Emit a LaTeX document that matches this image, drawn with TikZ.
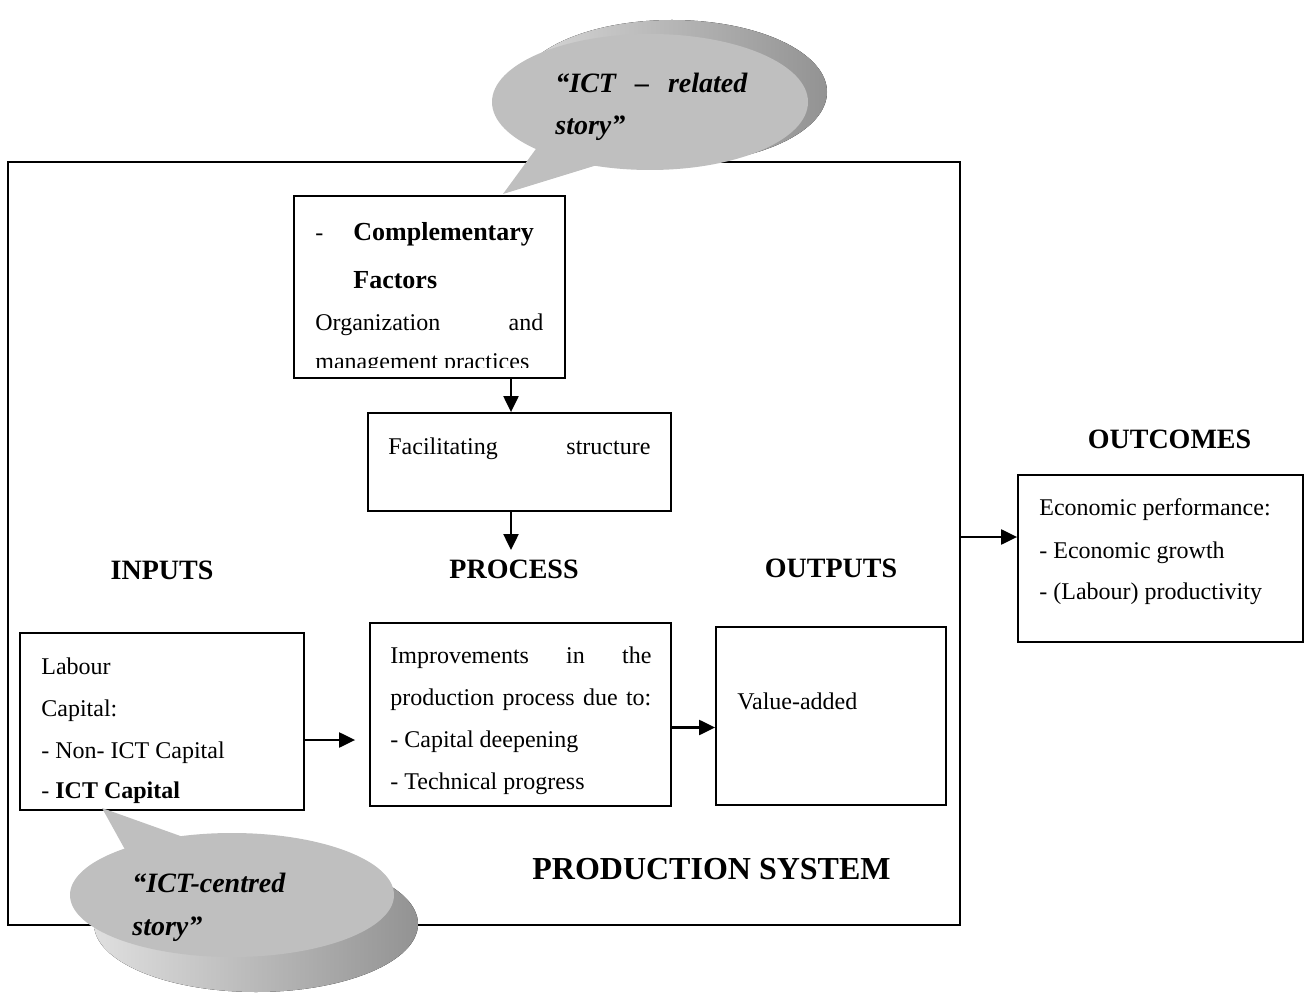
\documentclass[tikz,border=0pt]{standalone}
\usepackage{fontspec}
\setmainfont{Liberation Serif}
\usetikzlibrary{arrows.meta,positioning,shapes}

\tikzset{
  box/.style={draw, line width=0.9pt, inner sep=0pt},
  txt/.style={anchor=base west, inner sep=0pt, font=\fontsize{12}{14}\selectfont},
  subhead/.style={anchor=base west, inner sep=0pt, font=\fontsize{13}{15}\selectfont\bfseries},
  head/.style={anchor=base, inner sep=0pt, font=\fontsize{14}{16}\selectfont\bfseries},
  talk/.style={anchor=base west, inner sep=0pt, font=\fontsize{14}{16}\selectfont\bfseries\itshape},
  arr/.style={-{Triangle[length=8pt,width=7.5pt]}, line width=1.1pt},
  face/.style={fill=gray!50},
}

\begin{document}
\begin{tikzpicture}[x=0.5pt, y=-0.5pt]
\useasboundingbox (0,0) rectangle (1311,994);

% boxes
\node[box, minimum width=476pt, minimum height=381.5pt] (frame) at (484,543.5) {};
\node[box, fill=white, minimum width=135.5pt, minimum height=91pt] (compl) at (429.5,287) {};
\node[box, minimum width=151.5pt, minimum height=49pt] (facil) at (519.5,462) {};
\node[box, minimum width=142pt, minimum height=88.5pt] (inputs) at (162,721.5) {};
\node[box, minimum width=150.5pt, minimum height=91.5pt] (process) at (520.5,714.5) {};
\node[box, minimum width=115pt, minimum height=89pt] (outputs) at (831,716) {};
\node[box, minimum width=142.5pt, minimum height=83.5pt] (outcomes) at (1160.5,558.5) {};

% headings
\node[head] (inputs-lbl) at (162,579) {INPUTS};
\node[head] (process-lbl) at (514,578) {PROCESS};
\node[head] (outputs-lbl) at (831,577) {OUTPUTS};
\node[head] (outcomes-lbl) at (1169.5,448) {OUTCOMES};
\node[head, font=\fontsize{16}{18}\selectfont\bfseries] (system-lbl) at (711.5,879) {PRODUCTION SYSTEM};

% arrows
\coordinate (cx) at (511,0);
\draw[arr] (compl.south -| cx) -- (facil.north -| cx);
\draw[arr] (facil.south -| cx) -- ([yshift=4.5pt]process-lbl.north -| cx);
\draw[arr] ([yshift=-9.25pt]inputs.east) -- ([yshift=-9.25pt, xshift=-7pt]inputs.east -| process.west);
\draw[arr] ([yshift=-6.5pt]process.east) -- ([yshift=-6.5pt]process.east -| outputs.west);
\draw[arr] ([yshift=3.25pt]frame.east) -- ([yshift=3.25pt]frame.east -| outcomes.west);

% complementary factors
\node[txt] (compl-dash) at (315,241) {-};
\node[subhead] (compl-a) at (353,241) {Complementary};
\node[subhead] (compl-b) at (353,289) {Factors};
\node[txt] (compl-c) at (315,331) {\makebox[114pt][s]{Organization and}};
\begin{scope}
  \clip (294,196) rectangle (565,368);
  \node[txt] (compl-d) at (315,370) {management practices};
\end{scope}

% facilitating structure
\node[txt] (facil-a) at (388,454) {\makebox[131pt][s]{Facilitating structure}};

% inputs
\node[txt] (inputs-a) at (41,674) {Labour};
\node[txt] (inputs-b) at (41,716) {Capital:};
\node[txt] (inputs-c) at (41,758) {- Non- ICT Capital};
\node[txt] (inputs-d) at (41,798) {- \textbf{ICT Capital}};

% process
\node[txt] (process-a) at (390,663) {\makebox[130.5pt][s]{Improvements in the}};
\node[txt] (process-b) at (390,705) {\makebox[130.5pt][s]{production process due to:}};
\node[txt] (process-c) at (390,747) {- Capital deepening};
\node[txt] (process-d) at (390,789) {- Technical progress};

% outputs and outcomes
\node[txt] (outputs-a) at (737,709) {Value-added};
\node[txt] (outcomes-a) at (1039,515) {Economic performance:};
\node[txt] (outcomes-b) at (1039,558) {- Economic growth};
\node[txt] (outcomes-c) at (1039,599) {- (Labour) productivity};

% callout: ICT-related story
\fill[left color=gray!30, right color=gray!85] (672,92) ellipse [x radius=77.5pt, y radius=36pt];
\fill[face] (650,102) ellipse [x radius=79pt, y radius=34pt];
\fill[face] (503,194) -- (541,142) -- (620,158) -- cycle;
\node[talk] (talk-top-a) at (555,93) {\makebox[96pt][s]{“ICT – related}};
\node[talk] (talk-top-b) at (555,135) {story”};

% callout: ICT-centred story
\fill[left color=gray!25, right color=gray!85] (256,924) ellipse [x radius=81pt, y radius=34pt];
\fill[face] (232,895) ellipse [x radius=81pt, y radius=31pt];
\fill[face] (102,808) -- (133,864) -- (200,843) -- cycle;
\node[talk] (talk-bot-a) at (132,892) {“ICT-centred};
\node[talk] (talk-bot-b) at (132,935) {story”};
\end{tikzpicture}
\end{document}
